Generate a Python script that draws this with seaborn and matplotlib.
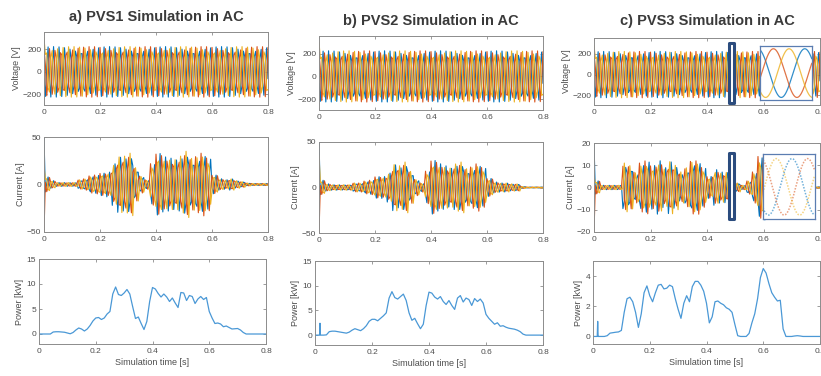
import numpy as np
import pandas as pd
import matplotlib
matplotlib.use('Agg')
import matplotlib.pyplot as plt
import seaborn as sns
from matplotlib.patches import Rectangle

# Panel titles and axis texts
titles = ['a) PVS1 Simulation in AC', 'b) PVS2 Simulation in AC', 'c) PVS3 Simulation in AC']
x_ticks = [0, 0.2, 0.4, 0.6, 0.8]
x_tick_labels = ['0', '0.2', '0.4', '0.6', '0.8']

# Phase colours (MATLAB default order)
phase_colors = ['#0072BD', '#D95319', '#EDB120']

# Grid voltage peak [V] (same for the three systems)
v_peak = [225, 225, 225]
# value of each phase in the first sample (start transient) [V]
v_start = [[0, 0, 300], [0, 0, 300], [0, 0, 285]]

# Peak phase current per 20 ms cycle [A]
current_a = [8, 4, 2, 2, 2, 2, 5, 6, 9, 10,
             12, 13, 22, 30, 30, 33, 18, 9, 5, 22,
             33, 29, 28, 27, 30, 35, 28, 30, 33, 28,
             10, 6, 5, 6, 4, 3, 1.5, 1, 1, 1]
current_b = [8, 4, 3, 3, 3, 3, 5, 5, 7, 8,
             12, 12, 16, 26, 24, 28, 18, 9, 5, 18,
             30, 26, 24, 22, 26, 28, 21, 23, 26, 22,
             10, 6, 5, 5, 4, 4, 1, 0.5, 0.5, 0.5]
current_c = [3, 1, 1, 1, 1, 11, 10, 7, 11, 12,
             10, 12, 9, 12, 10, 7, 9, 12, 12, 9,
             5, 8, 7, 7, 5, 2, 1, 3, 7, 14,
             15, 12, 10, 8, 0.3, 0.3, 0.3, 0.3, 0.3, 0.3]
# first sample of each phase current (start transient) [A]
i_start = [[50, -50, 20], [50, -50, 35], [20, -20, 5]]

# Active power [kW] every 10 ms
t_power = np.round(np.arange(0, 0.801, 0.01), 2)
power_a = [0, 0, 0, 0, 0, 0.4, 0.45, 0.45, 0.4, 0.35,
           0.2, 0.05, 0.3, 0.8, 1.2, 1.0, 0.6, 1.0, 1.7, 2.6,
           3.2, 3.3, 2.9, 3.2, 4.0, 4.5, 8.0, 9.4, 7.9, 7.7,
           8.2, 8.9, 8.0, 5.5, 3.1, 3.4, 2.1, 0.9, 2.5, 6.5,
           9.3, 9.0, 8.1, 7.4, 8.0, 7.4, 6.5, 7.2, 6.2, 5.3,
           8.3, 8.2, 6.7, 7.7, 7.5, 6.1, 7.0, 7.5, 6.9, 7.3,
           4.5, 3.2, 2.1, 2.2, 2.0, 1.45, 1.6, 1.3, 1.0, 1.05,
           1.1, 0.8, 0.3, 0, 0, 0, 0, 0, 0, 0, 0]
power_b = [0, 0, 0, 0, 0.05, 0.7, 0.8, 0.8, 0.7, 0.6,
           0.5, 0.4, 0.6, 1.0, 1.3, 1.1, 0.9, 1.3, 1.9, 2.8,
           3.2, 3.2, 2.9, 3.4, 3.9, 4.5, 7.5, 8.8, 7.6, 7.3,
           7.8, 8.3, 7.0, 4.5, 3.0, 3.4, 2.3, 1.3, 2.2, 6.0,
           8.7, 8.5, 7.7, 7.3, 7.8, 6.8, 6.2, 7.0, 6.0, 5.2,
           7.5, 8.0, 6.7, 7.5, 7.2, 6.0, 7.4, 6.8, 7.3, 6.5,
           4.2, 3.4, 2.8, 2.2, 2.5, 1.8, 1.9, 1.6, 1.4, 1.3,
           1.2, 1.0, 0.7, 0.2, 0, 0, 0, 0, 0, 0, 0]
power_c = [0, 0, 0, 0, 0, 0.05, 0.22, 0.25, 0.28, 0.3,
           0.4, 1.6, 2.5, 2.6, 2.3, 1.6, 0.6, 1.5, 2.9, 3.35,
           2.7, 2.3, 2.9, 3.4, 3.45, 3.15, 3.2, 3.4, 3.3, 2.5,
           1.8, 1.2, 2.2, 2.7, 2.3, 3.3, 3.65, 3.65, 3.4, 3.0,
           2.2, 0.9, 1.3, 2.3, 2.35, 2.2, 2.1, 1.9, 1.8, 1.6,
           0.8, 0.05, 0, 0, 0, 0.2, 0.9, 1.5, 2.5, 3.9,
           4.5, 4.2, 3.5, 2.9, 2.6, 2.35, 2.4, 0.5, 0, 0,
           0, 0.03, 0.05, 0.03, 0, 0, 0, 0, 0, 0, 0]
# start-up spikes in the power traces
spike_t = [[], [0.016, 0.0175, 0.019], [0.015, 0.0165, 0.018]]
spike_p = [[], [0, 2.4, 0], [0, 1.0, 0]]

# zoom window marked in PVS3 and the inset boxes (data units)
zoom_t = [0.476, 0.498]
mark_v = [0.477, 0.495, -272, 305]
mark_i = [0.477, 0.495, -14.3, 15.4]
inset_v = [0.588, 0.771, -250, 279]
inset_i = [0.598, 0.781, -14.3, 14.9]

currents = [current_a, current_b, current_c]
powers = [power_a, power_b, power_c]

# simulation output sampling (about four samples per 50 Hz cycle)
f_grid = 50
beat = 0.2
slow = (np.pi / 2) / beat
dt = 0.25 / (f_grid + slow / (2 * np.pi))
t_wave = np.arange(0, 0.8 + dt / 2, dt)
phi = [np.pi, np.pi - 2 * np.pi / 3, np.pi + 2 * np.pi / 3]
phi_0 = slow * 0.035
phi_i = 2 * np.pi / 3

sns.set_style('ticks')
plt.rcParams['font.family'] = ['Liberation Sans', 'DejaVu Sans']
plt.rcParams.update({
    'xtick.direction': 'in', 'ytick.direction': 'in',
    'xtick.top': True, 'ytick.right': True,
    'xtick.major.size': 2.5, 'ytick.major.size': 2.5,
    'xtick.major.width': 0.6, 'ytick.major.width': 0.6,
    'xtick.labelsize': 6, 'ytick.labelsize': 6,
    'xtick.color': '#8c8c8c', 'ytick.color': '#8c8c8c',
    'xtick.labelcolor': '#4d4d4d', 'ytick.labelcolor': '#4d4d4d',
    'xtick.major.pad': 3, 'ytick.major.pad': 2,
    'axes.edgecolor': '#8c8c8c', 'axes.linewidth': 0.7,
    'axes.labelsize': 6.5, 'axes.labelcolor': '#4d4d4d',
})

fig = plt.figure(figsize=(8.21, 3.76), dpi=100)

W, H = 821, 376
def rect(x0, x1, y0, y1):
    return [x0 / W, 1 - y1 / H, (x1 - x0) / W, (y1 - y0) / H]

pos_v = [rect(44, 268, 32, 105), rect(319, 543, 36, 110), rect(594, 820, 38, 105)]
pos_i = [rect(44, 268, 137, 232), rect(319, 543, 142, 233), rect(594, 820, 143, 232)]
pos_p = [rect(39, 266, 259, 344), rect(315, 543, 261, 345), rect(593, 820, 261, 344)]
title_y = [17, 21, 21]

bins = np.minimum((t_wave / 0.02 + 1e-9).astype(int), 39)


def style(ax):
    ax.set_xlim(0, 0.8)
    ax.set_xticks(x_ticks)
    ax.set_xticklabels(x_tick_labels)
    for s in ax.spines.values():
        s.set_visible(True)


def draw_inset(ax, box, amp_scale, shift, dotted):
    ins = ax.inset_axes([box[0], box[2], box[1] - box[0], box[3] - box[2]],
                        transform=ax.transData)
    tz = np.linspace(zoom_t[0], zoom_t[1], 200)
    for k in range(3):
        y = np.sin(2 * np.pi * f_grid * tz + phi[k] + shift)
        if dotted:
            sns.lineplot(x=tz, y=y, ax=ins, color=phase_colors[k], lw=1.1,
                         alpha=0.55, ls=(0, (1, 1)))
        else:
            sns.lineplot(x=tz, y=y, ax=ins, color=phase_colors[k], lw=0.9, alpha=0.8)
    ins.set_xlim(tz[0], tz[-1])
    ins.set_ylim(-amp_scale, amp_scale)
    ins.set_xticks([])
    ins.set_yticks([])
    ins.tick_params(top=False, right=False)
    for s in ins.spines.values():
        s.set_visible(True)
        s.set_color('#5B7DB1')
        s.set_linewidth(0.9)
    ins.set_facecolor('white')


for j in range(3):
    # voltage
    ax = fig.add_axes(pos_v[j])
    for k in range(3):
        v = v_peak[j] * np.sin(2 * np.pi * f_grid * t_wave + phi[k] + phi_0)
        v[0] = v_start[j][k] if v_start[j][k] != 0 else v[0]
        sns.lineplot(x=t_wave, y=v, ax=ax, color=phase_colors[k], lw=0.8)
    style(ax)
    ax.set_ylim(-295, 355)
    ax.set_yticks([-200, 0, 200])
    ax.set_ylabel('Voltage [V]', labelpad=1)
    fig.text((pos_v[j][0] + pos_v[j][2] / 2), 1 - title_y[j] / H, titles[j],
             ha='center', va='center', fontsize=10.5, fontweight='bold', color='#3a3a3a')
    if j == 2:
        ax.add_patch(Rectangle((mark_v[0], mark_v[2]), mark_v[1] - mark_v[0],
                               mark_v[3] - mark_v[2], fc='white', ec='#2B4C7E',
                               lw=2.2, joinstyle='round', zorder=5, clip_on=False))
        draw_inset(ax, inset_v, 1.12, 0, False)

    # current
    ax = fig.add_axes(pos_i[j])
    amp = np.array(currents[j])[bins]
    for k in range(3):
        i = amp * np.sin(2 * np.pi * f_grid * t_wave + phi[k] + phi_0)
        i[0] = i_start[j][k]
        sns.lineplot(x=t_wave, y=i, ax=ax, color=phase_colors[k], lw=0.8)
    style(ax)
    if j < 2:
        ax.set_ylim(-50, 50)
        ax.set_yticks([-50, 0, 50])
    else:
        ax.set_ylim(-20, 20)
        ax.set_yticks([-20, -10, 0, 10, 20])
        ax.add_patch(Rectangle((mark_i[0], mark_i[2]), mark_i[1] - mark_i[0],
                               mark_i[3] - mark_i[2], fc='white', ec='#2B4C7E',
                               lw=2.2, joinstyle='round', zorder=5, clip_on=False))
        draw_inset(ax, inset_i, 1.15, phi_i, True)
    ax.set_ylabel('Current [A]', labelpad=1)

    # power
    ax = fig.add_axes(pos_p[j])
    df = pd.DataFrame({'t': np.concatenate([t_power, spike_t[j]]),
                       'p': np.concatenate([powers[j], spike_p[j]])}).sort_values('t')
    sns.lineplot(data=df, x='t', y='p', ax=ax, color='#4A98D6', lw=0.9, sort=False)
    style(ax)
    if j < 2:
        ax.set_ylim(-2, 15)
        ax.set_yticks([0, 5, 10, 15])
    else:
        ax.set_ylim(-0.5, 5)
        ax.set_yticks([0, 2, 4])
    ax.set_ylabel('Power [kW]', labelpad=2)
    ax.set_xlabel('Simulation time [s]', labelpad=2)

fig.savefig('out.png', dpi=100)
